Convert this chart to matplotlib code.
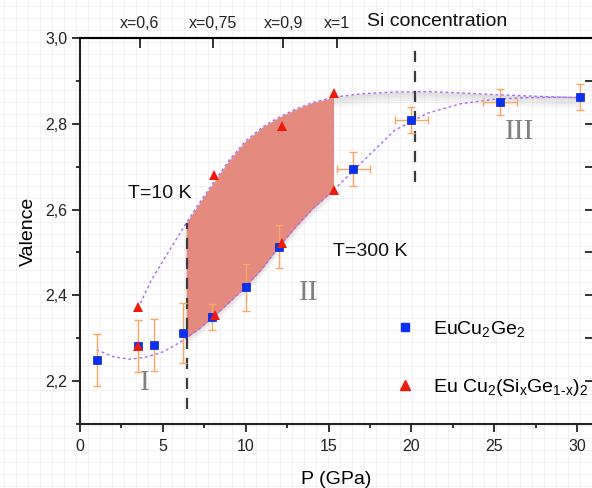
import numpy as np
import matplotlib
matplotlib.use('Agg')
from matplotlib import pyplot as plt
from matplotlib.lines import Line2D
from matplotlib.ticker import MultipleLocator, FuncFormatter

plt.rcParams['font.family'] = ['Liberation Sans', 'DejaVu Sans']
plt.rcParams['mathtext.fontset'] = 'custom'
plt.rcParams['mathtext.rm'] = 'Liberation Sans'
plt.rcParams['mathtext.default'] = 'regular'

# EuCu2Ge2 (blue squares)
ge_p = [1.0, 3.5, 4.45, 6.2, 7.95, 10.0, 12.0, 16.5, 20.0, 25.35, 30.2]
ge_v = [2.249, 2.282, 2.284, 2.313, 2.350, 2.419, 2.513, 2.694, 2.808, 2.850, 2.862]
ge_verr = [0.06, 0.06, 0.06, 0.07, 0.03, 0.055, 0.05, 0.04, 0.03, 0.03, 0.03]
ge_perr = [0, 0, 0, 0, 0, 0, 0, 1.0, 1.0, 1.0, 0]

# Eu Cu2(SixGe1-x)2 (red triangles)
si_p = [3.5, 3.5, 8.1, 8.15, 12.2, 12.2, 15.3, 15.3]
si_v = [2.372, 2.281, 2.681, 2.353, 2.794, 2.522, 2.871, 2.645]

# guide curves
curve_p_10K = [3.5, 4.3, 5.0, 5.8, 6.4, 7.2, 8.0, 9.0, 10.0, 11.0, 12.0, 13.0,
               14.0, 15.3, 17.0, 19.0, 21.0, 23.0, 25.0, 27.0, 29.0, 30.2]
curve_v_10K = [2.370, 2.435, 2.480, 2.530, 2.568, 2.615, 2.660, 2.715, 2.760, 2.792,
               2.815, 2.834, 2.849, 2.862, 2.870, 2.874, 2.875, 2.872, 2.868, 2.865,
               2.862, 2.861]
curve_p_300K = [1.0, 2.0, 3.0, 4.0, 5.0, 5.8, 6.4, 7.2, 8.0, 9.0, 10.0, 11.0, 12.0,
                13.0, 14.0, 15.3, 17.0, 19.0, 21.0, 23.0, 25.0, 27.0, 29.0, 30.2]
curve_v_300K = [2.273, 2.257, 2.251, 2.256, 2.268, 2.285, 2.300, 2.322, 2.348, 2.383,
                2.420, 2.462, 2.513, 2.558, 2.600, 2.645, 2.710, 2.785, 2.825, 2.847,
                2.857, 2.861, 2.862, 2.861]
shade_from, shade_to = 6.4, 15.3

# dashed markers
vline_p = [6.45, 20.2]
vline_lo = [2.135, 2.665]
vline_hi = [2.568, 2.988]

top_ticks = [3.62, 8.05, 12.27, 15.49]
top_labels = ['x=0,6', 'x=0,75', 'x=0,9', 'x=1']

fig = plt.figure(figsize=(5.92, 4.88), dpi=100)

# graph paper background
bg = fig.add_axes([0, 0, 1, 1], zorder=-1)
bg.set_xlim(0, 592)
bg.set_ylim(0, 488)
bg.set_xticks(np.arange(4, 592, 12))
bg.set_yticks(np.arange(2, 488, 12))
bg.grid(True, color='#f2f2f2', lw=0.7)
bg.tick_params(length=0, labelbottom=False, labelleft=False)
for s in bg.spines.values():
    s.set_visible(False)

ax = fig.add_axes([80/592, 1 - 424/488, 1 - 80/592, (424 - 38)/488])
ax.patch.set_alpha(0)

# shaded region between the curves
sp = [p for p in curve_p_10K if shade_from <= p <= shade_to]
up = [curve_v_10K[curve_p_10K.index(p)] for p in sp]
lo = [curve_v_300K[curve_p_300K.index(p)] for p in sp]
ax.fill_between(sp, lo, up, color='#e48a7e', lw=0, zorder=1)
# soft shadows
lo_arr = np.array(lo)
for k in range(1, 5):
    ax.fill_between(sp, lo_arr - 0.004 * k, lo_arr, color='gray', alpha=0.05, lw=0, zorder=0.9)
tail_p = [p for p in curve_p_10K if p >= shade_to]
tail_v = np.array([curve_v_10K[curve_p_10K.index(p)] for p in tail_p])
for k in range(1, 6):
    ax.fill_between(tail_p, tail_v - 0.005 * k, tail_v, color='gray', alpha=0.05, lw=0, zorder=0.9)

ax.plot(curve_p_10K, curve_v_10K, ls=(0, (2, 2)), color='#a56cf0', lw=1.0, zorder=2)
ax.plot(curve_p_300K, curve_v_300K, ls=(0, (2, 2)), color='#a56cf0', lw=1.0, zorder=2)

ax.vlines(vline_p, vline_lo, vline_hi, colors='#3a3a3a', linestyles=(0, (5, 4)), lw=1.6, zorder=3)

# error bars
ax.errorbar(ge_p, ge_v, yerr=ge_verr, fmt='none', ecolor='#f7a863', elinewidth=1.0,
            capsize=3, capthick=1.0, zorder=3)
xp = [p for p, e in zip(ge_p, ge_perr) if e > 0]
xv = [v for v, e in zip(ge_v, ge_perr) if e > 0]
xe = [e for e in ge_perr if e > 0]
ax.errorbar(xp, xv, xerr=xe, fmt='none', ecolor='#f7a863', elinewidth=1.0,
            capsize=3, capthick=1.0, zorder=3)

ax.plot(ge_p, ge_v, 's', color='#0a30f5', ms=6.3, mec='#0a20c0', mew=0.5, ls='none', zorder=4)
ax.plot(si_p, si_v, '^', color='#ee1a0c', ms=7.5, mew=0, ls='none', zorder=5)

ax.set_xlim(0, 30.9)
ax.set_ylim(2.1, 3.0)
ax.xaxis.set_major_locator(MultipleLocator(5))
ax.xaxis.set_minor_locator(MultipleLocator(2.5))
ax.yaxis.set_major_locator(MultipleLocator(0.2))
ax.yaxis.set_minor_locator(MultipleLocator(0.1))
ax.yaxis.set_major_formatter(FuncFormatter(lambda v, pos: f'{v:.1f}'.replace('.', ',')))
ax.tick_params(axis='both', which='major', direction='out', length=6, width=1.3,
               labelsize=11.5, colors='#222222', pad=3)
ax.tick_params(axis='x', which='major', pad=5)
ax.tick_params(axis='both', which='minor', direction='out', length=3, width=1.3, colors='#222222')
ax.tick_params(axis='y', which='both', right=True, labelright=False)
for side in ['left', 'bottom', 'top']:
    ax.spines[side].set_linewidth(1.5)
    ax.spines[side].set_color('#222222')
ax.spines['right'].set_visible(False)

ax.set_xlabel('P (GPa)', fontsize=14, labelpad=12)
ax.set_ylabel('Valence', fontsize=14, labelpad=6)

# right side ticks pointing inward
for t in ax.yaxis.get_major_ticks() + ax.yaxis.get_minor_ticks():
    t.tick2line.set_marker(matplotlib.markers.TICKLEFT)
    t.tick2line.set_markersize(5)

top = ax.twiny()
top.set_xlim(ax.get_xlim())
top.set_xticks(top_ticks)
top.set_xticklabels(top_labels)
top.tick_params(axis='x', direction='in', length=7, width=1.3, labelsize=11.5, pad=5,
                colors='#222222')
for s in ['left', 'right', 'bottom']:
    top.spines[s].set_visible(False)
top.spines['top'].set_linewidth(1.5)

ax.text(437/592, 1 - 22/488, 'Si concentration', transform=fig.transFigure,
        fontsize=14, ha='center', va='center', color='#111111')
ax.text(128/592, 1 - 194/488, 'T=10 K', transform=fig.transFigure,
        fontsize=14, ha='left', va='center', color='#111111')
ax.text(333/592, 1 - 252/488, 'T=300 K', transform=fig.transFigure,
        fontsize=14, ha='left', va='center', color='#111111')
for txt, px, py in [('I', 145, 383), ('II', 309, 293), ('III', 520, 132)]:
    ax.text(px/592, 1 - py/488, txt, transform=fig.transFigure, fontsize=21,
            family='Liberation Serif', color='#808080', ha='center', va='center')

handles = [Line2D([], [], marker='s', color='#0a30f5', ms=6, ls='none'),
           Line2D([], [], marker='^', color='#ee1a0c', ms=7.5, ls='none')]
labels = ['EuCu$_2$Ge$_2$', 'Eu Cu$_2$(Si$_x$Ge$_{1\u2010x}$)$_2$']
ax.legend(handles, labels, loc='upper left', bbox_to_anchor=(395/592, 1 - 319/488),
          bbox_transform=fig.transFigure, frameon=False, fontsize=14,
          handlelength=1.0, handletextpad=0.95, labelspacing=1.95,
          borderpad=0, borderaxespad=0)

fig.savefig('out.png', dpi=100)
